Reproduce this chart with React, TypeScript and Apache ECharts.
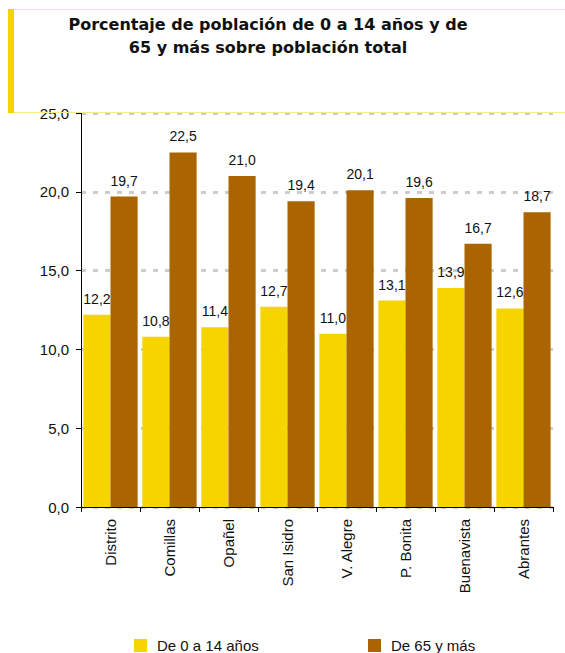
import React, { useEffect, useRef } from "react";
import * as echarts from "echarts";

const categories = ["Distrito", "Comillas", "Opañel", "San Isidro", "V. Alegre", "P. Bonita", "Buenavista", "Abrantes"];
const young = [12.2, 10.8, 11.4, 12.7, 11.0, 13.1, 13.9, 12.6];
const old = [19.7, 22.5, 21.0, 19.4, 20.1, 19.6, 16.7, 18.7];
const seriesNames = ["De 0 a 14 años", "De 65 y más"];
const titleText = "Porcentaje de población de 0 a 14 años y de\n65 y más sobre población total";

const YELLOW = "#F5D400";
const BROWN = "#AA6500";
const FONT = "'Liberation Sans', Arial, sans-serif";

const fmt = (v: number) => v.toFixed(1).replace(".", ",");

export default function App() {
  const ref = useRef<HTMLDivElement>(null);
  useEffect(() => {
    if (!ref.current) return;
    const chart = echarts.init(ref.current, null, { renderer: "svg" });
    const labelOpt = {
      show: true,
      position: "top" as const,
      distance: 9,
      fontFamily: FONT,
      fontSize: 14,
      color: "#111",
      formatter: (p: any) => fmt(p.value),
    };
    chart.setOption({
      animation: false,
      backgroundColor: "#fff",
      graphic: [
        { type: "line", shape: { x1: 8, y1: 9.5, x2: 565, y2: 9.5 }, style: { stroke: "#F7EA8C", lineWidth: 1 }, z: 1 },
        { type: "line", shape: { x1: 8, y1: 112.5, x2: 565, y2: 112.5 }, style: { stroke: "#F7EA8C", lineWidth: 1 }, z: 1 },
        { type: "rect", shape: { x: 8, y: 9, width: 6, height: 104 }, style: { fill: YELLOW }, z: 2 },
        {
          type: "text",
          x: 268,
          y: 13,
          style: {
            text: titleText,
            align: "center",
            verticalAlign: "top",
            fontFamily: "'DejaVu Sans', sans-serif",
            fontWeight: "bold",
            fontSize: 16,
            lineHeight: 23,
            fill: "#111",
          },
        },
      ],
      grid: { left: 81, top: 113, width: 472, height: 394 },
      legend: [
        {
          data: [seriesNames[0]],
          left: 134,
          top: 638,
          padding: 0,
          icon: "rect",
          itemWidth: 13,
          itemHeight: 13,
          textStyle: { fontFamily: FONT, fontSize: 15, color: "#111", padding: [0, 0, 0, 5] },
        },
        {
          data: [seriesNames[1]],
          left: 368,
          top: 638,
          padding: 0,
          icon: "rect",
          itemWidth: 13,
          itemHeight: 13,
          textStyle: { fontFamily: FONT, fontSize: 15, color: "#111", padding: [0, 0, 0, 5] },
        },
      ],
      xAxis: {
        type: "category",
        data: categories,
        axisLine: { show: true, lineStyle: { color: "#000", width: 1 } },
        axisTick: { show: true, length: 5, lineStyle: { color: "#000" } },
        axisLabel: { rotate: 90, margin: 12, fontFamily: FONT, fontSize: 15, color: "#111" },
      },
      yAxis: {
        type: "value",
        min: 0,
        max: 25,
        interval: 5,
        axisLine: { show: true, lineStyle: { color: "#000", width: 1 } },
        axisTick: { show: true, length: 5, lineStyle: { color: "#000" } },
        axisLabel: { margin: 12, fontFamily: FONT, fontSize: 15, color: "#111", formatter: (v: number) => fmt(v) },
        splitLine: { show: true, lineStyle: { color: "#cccccc", width: 3, type: [5, 7] } },
      },
      series: [
        {
          name: seriesNames[0],
          type: "bar",
          data: young,
          itemStyle: { color: YELLOW },
          barGap: "0%",
          barCategoryGap: "8%",
          label: labelOpt,
        },
        {
          name: seriesNames[1],
          type: "bar",
          data: old,
          itemStyle: { color: BROWN },
          barGap: "0%",
          barCategoryGap: "8%",
          label: labelOpt,
        },
      ],
    });
    return () => chart.dispose();
  }, []);
  return <div ref={ref} style={{ position: "fixed", left: 0, top: 0, width: 565, height: 653 }} />;
}
